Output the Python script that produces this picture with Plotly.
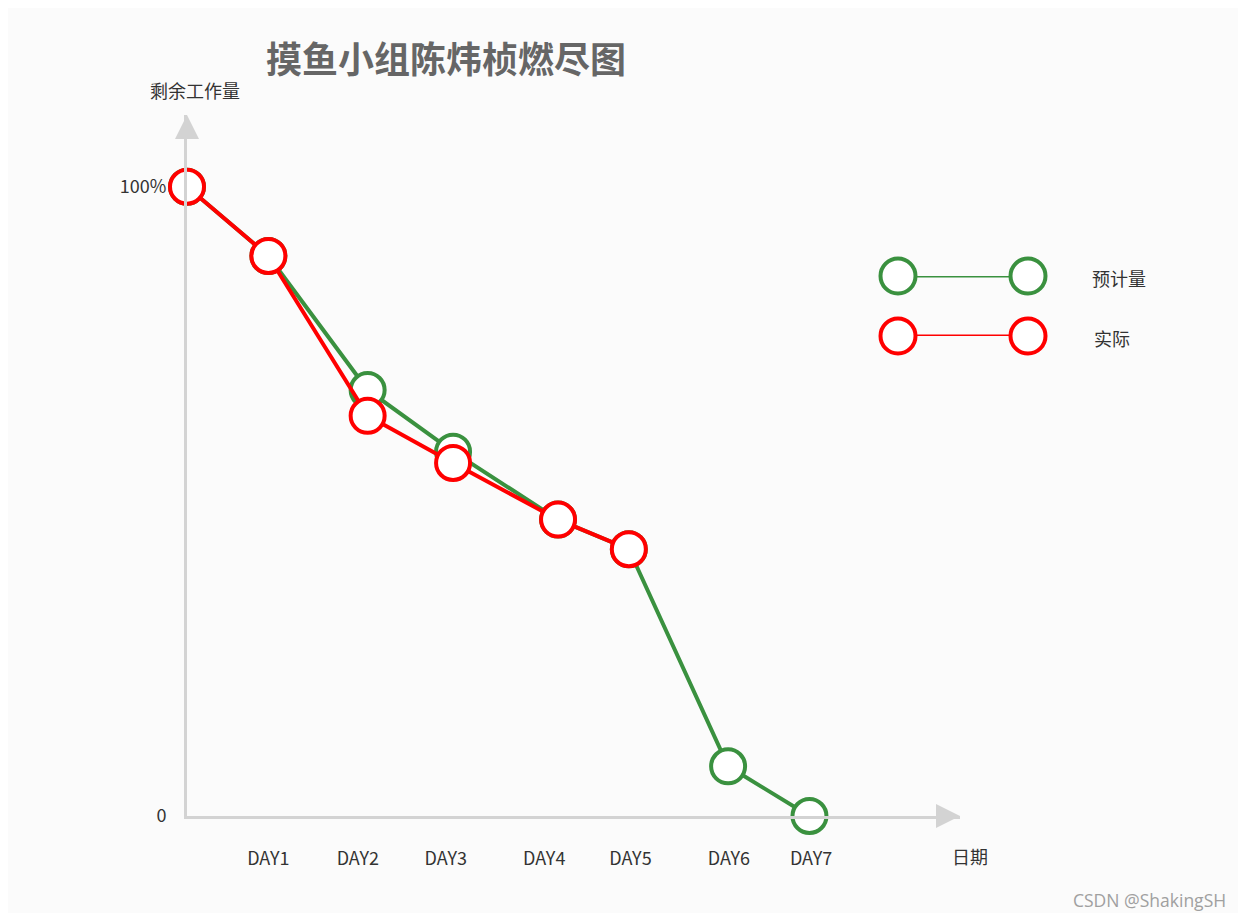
import plotly.graph_objects as go

# 数据
x_pos = [0, 1.0, 2.22, 3.27, 4.56, 5.43, 6.65, 7.65]
plan = [100, 89, 67.7, 57.9, 47.1, 42.4, 7.9, 0]
actual = [100, 89, 63.6, 56.1, 47.1, 42.4]
day_labels = ["DAY1", "DAY2", "DAY3", "DAY4", "DAY5", "DAY6", "DAY7"]
day_ticks = [1.0, 2.1, 3.18, 4.39, 5.45, 6.66, 7.67]
series_names = ["预计量", "实际"]

GREEN = "#3a913f"
RED = "#ff0000"
AXIS = "#d3d3d3"
FONT = "Noto Sans CJK SC"

# 页面有 8px 的 body 边距, 图整体缩小 16px
W, H = 1230, 905
X0, Y0 = 187, 816          # 原点(页面像素)
PW, PH = 1000, 701         # 绘图区宽高


def px(x):
    return (x - X0) / PW


def py(y):
    return (Y0 - y) / PH


fig = go.Figure()
fig.add_trace(go.Scatter(
    x=x_pos, y=plan, mode="lines+markers", name=series_names[0],
    line=dict(color=GREEN, width=4),
    marker=dict(size=34, color="white", line=dict(color=GREEN, width=4)),
    cliponaxis=False, showlegend=False,
))
fig.add_trace(go.Scatter(
    x=x_pos[:len(actual)], y=actual, mode="lines+markers", name=series_names[1],
    line=dict(color=RED, width=4),
    marker=dict(size=34, color="white", line=dict(color=RED, width=4)),
    cliponaxis=False, showlegend=False,
))

# 自绘图例 (第二套坐标)
for i, (name, color) in enumerate(zip(series_names, [GREEN, RED])):
    fig.add_trace(go.Scatter(
        x=[0, 1], y=[1 - i, 1 - i], mode="lines+markers", xaxis="x2", yaxis="y2",
        line=dict(color=color, width=3),
        marker=dict(size=35, color="white", line=dict(color=color, width=4)),
        cliponaxis=False, showlegend=False, hoverinfo="skip",
    ))

fig.update_layout(
    width=W, height=H,
    paper_bgcolor="#fbfbfb", plot_bgcolor="#fbfbfb",
    margin=dict(l=X0 - 8, r=W - (X0 - 8) - PW, t=115 - 8, b=H - (Y0 - 8)),
    font=dict(family=FONT, size=18, color="#333333"),
    title=dict(text="<b>摸鱼小组陈炜桢燃尽图</b>", x=438 / W, xanchor="center",
               y=1 - 52 / H, yanchor="middle",
               font=dict(family=FONT, size=36, color="#666666")),
    xaxis=dict(domain=[0, px(960)], range=[0, 9.5], showgrid=False, zeroline=False,
               showline=True, linecolor=AXIS, linewidth=3,
               tickvals=day_ticks, ticktext=day_labels,
               ticks="", ticklabelstandoff=24, tickfont=dict(size=18)),
    yaxis=dict(range=[0, 111.4], showgrid=False, zeroline=False, showline=True,
               linecolor=AXIS, linewidth=3, tickvals=[0, 100], ticktext=["0", "100%"],
               ticks="", ticklabelstandoff=14, tickfont=dict(size=18)),
    xaxis2=dict(domain=[px(898), px(1028)], range=[0, 1], visible=False, anchor="y2"),
    yaxis2=dict(domain=[py(336), py(276)], range=[0, 1], visible=False, anchor="x2"),
)

# 坐标轴箭头
fig.add_annotation(x=0, y=111.4, ax=0, ay=22, text="", showarrow=True,
                   arrowhead=2, arrowsize=1.6, arrowwidth=3, arrowcolor=AXIS,
                   xref="x", yref="y")
fig.add_annotation(x=9.5, y=0, ax=-22, ay=0, text="", showarrow=True,
                   arrowhead=2, arrowsize=1.6, arrowwidth=3, arrowcolor=AXIS,
                   xref="x", yref="y")

# 轴名称 / 图例文字 / 水印
labels = [
    (195, 90, "剩余工作量", 18, "#333333", FONT),
    (970, 856, "日期", 18, "#333333", FONT),
    (1119, 278, series_names[0], 18, "#333333", FONT),
    (1112, 338, series_names[1], 18, "#333333", FONT),
    (1149, 900, "CSDN @ShakingSH", 17.5, "#a0a0a0", "Open Sans"),
]
for lx, ly, txt, size, color, family in labels:
    fig.add_annotation(x=px(lx), y=py(ly), xref="paper", yref="paper", text=txt,
                       xanchor="center", yanchor="middle", showarrow=False,
                       font=dict(size=size, color=color, family=family))

fig.write_html("out.html")
